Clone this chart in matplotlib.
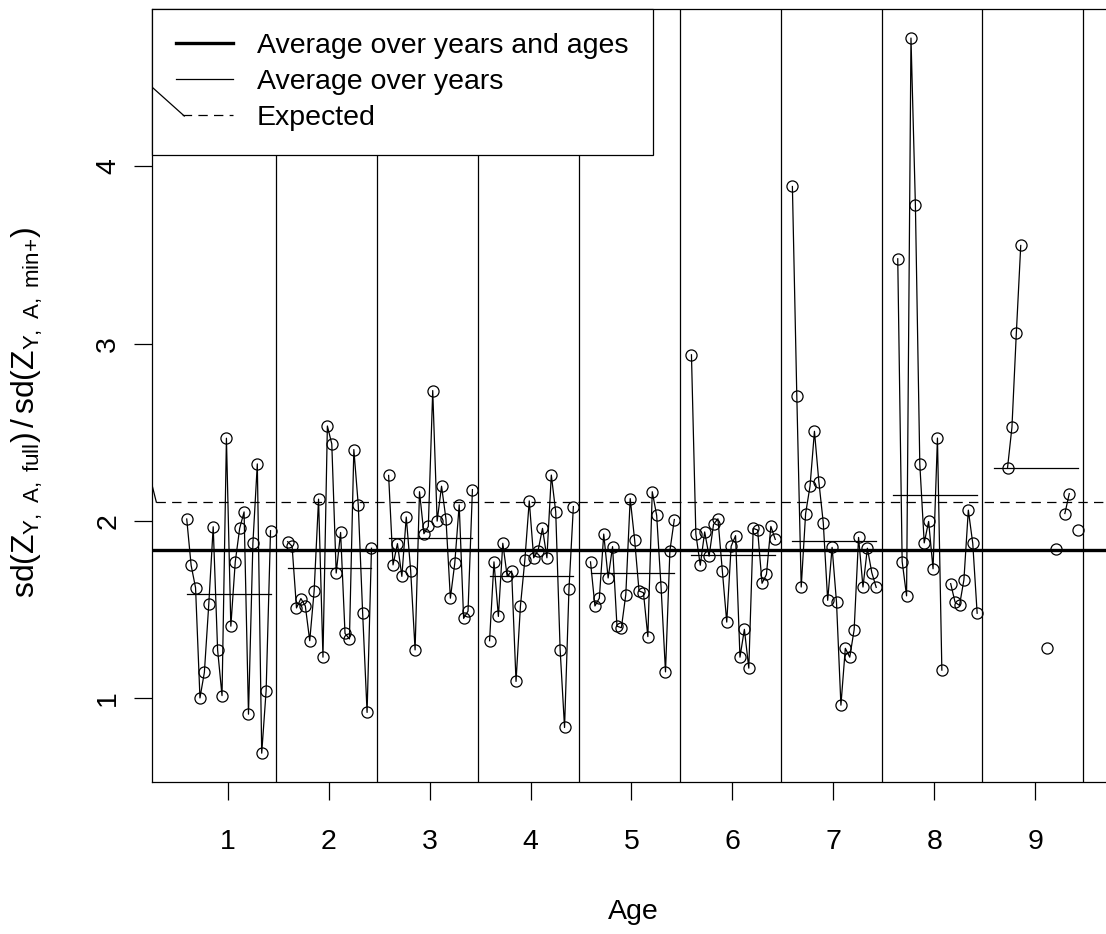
"""
Ratio of sd(Z) full vs min+ by age, one line per age over the years.
"""

import numpy as np
import matplotlib.pyplot as plt
from matplotlib.lines import Line2D

plt.rcParams['font.family'] = ['Liberation Sans', 'DejaVu Sans']
plt.rcParams['mathtext.fontset'] = 'custom'
plt.rcParams['mathtext.rm'] = 'Liberation Sans'
plt.rcParams['mathtext.it'] = 'Liberation Sans'
plt.rcParams['mathtext.bf'] = 'Liberation Sans:bold'

### Data, 20 years per age, nan = missing ###
nan = np.nan
ages = [1, 2, 3, 4, 5, 6, 7, 8, 9]
years = np.arange(20)

ratio_age1 = [2.01, 1.748, 1.622, 1.00, 1.144, 1.529, 1.966, 1.271, 1.013, 2.466,
              1.405, 1.768, 1.957, 2.05, 0.908, 1.873, 2.321, 0.688, 1.041, 1.944]
ratio_age2 = [1.882, 1.856, 1.508, 1.561, 1.519, 1.323, 1.604, 2.122, 1.230, 2.535,
              2.434, 1.705, 1.934, 1.364, 1.333, 2.402, 2.09, 1.477, 0.918, 1.845]
ratio_age3 = [2.256, 1.751, 1.871, 1.686, 2.021, 1.718, 1.271, 2.164, 1.927, 1.968,
              2.735, 1.998, 2.195, 2.01, 1.563, 1.761, 2.09, 1.449, 1.49, 2.176]
ratio_age4 = [1.323, 1.768, 1.46, 1.873, 1.686, 1.716, 1.093, 1.519, 1.779, 2.112,
              1.791, 1.832, 1.957, 1.791, 2.258, 2.05, 1.271, 0.833, 1.613, 2.08]
ratio_age5 = [1.768, 1.519, 1.563, 1.925, 1.677, 1.854, 1.405, 1.396, 1.583, 2.125,
              1.893, 1.604, 1.594, 1.346, 2.164, 2.03, 1.624, 1.147, 1.832, 2.007]
ratio_age6 = [2.937, 1.925, 1.749, 1.937, 1.80, 1.979, 2.011, 1.718, 1.428, 1.856,
              1.916, 1.23, 1.387, 1.168, 1.957, 1.948, 1.647, 1.697, 1.968, 1.895]
ratio_age7 = [3.887, 2.706, 1.626, 2.041, 2.196, 2.505, 2.22, 1.989, 1.551, 1.85,
              1.54, 0.959, 1.28, 1.23, 1.385, 1.906, 1.626, 1.845, 1.707, 1.624]
ratio_age8 = [nan, 3.479, 1.77, 1.576, 4.725, 3.784, 2.32, 1.875, 1.996, 1.729,
              2.467, 1.157, nan, 1.645, 1.54, 1.522, 1.667, 2.06, 1.873, 1.478]
ratio_age9 = [nan, nan, nan, 2.298, 2.527, 3.06, 3.554, nan, nan, nan,
              nan, nan, 1.28, nan, 1.843, nan, 2.041, 2.153, nan, 1.948]

avg_all = 1.834      # average over years and ages
expected = 2.105     # expected ratio

legend_labels = ['Average over years and ages', 'Average over years', 'Expected']

groups = [ratio_age1, ratio_age2, ratio_age3, ratio_age4, ratio_age5,
          ratio_age6, ratio_age7, ratio_age8, ratio_age9]

### Layout helpers ###
slot_offset = -0.406   # first year relative to age tick
slot_step = 0.0437     # spacing between years inside an age block
div_offset = 0.477     # block separators
dash = (0, (7.5, 5))
fs = 20.5

W, H = 1106, 934
fig = plt.figure(figsize=(W / 100, H / 100), dpi=100)
# plot box right side sits just outside the saved picture
ax = fig.add_axes([151.7 / W, (H - 781.7) / H, (1114 - 151.7) / W, (781.7 - 9) / H])

for age, vals in zip(ages, groups):
    vals = np.asarray(vals, dtype=float)
    x = age + slot_offset + years * slot_step
    ax.plot(x, vals, color='k', lw=0.9, marker='o', ms=8, mfc='none', mec='k', mew=0.9)
    ax.plot([x[0], x[-1]], [np.nanmean(vals)] * 2, color='k', lw=0.9)
    ax.axvline(age + div_offset, color='k', lw=0.9)

ax.axhline(avg_all, color='k', lw=2.4)
ax.hlines(expected, 0.293, 10.5, colors='k', lw=0.9, linestyles=[dash])
# small stray segments that appear in the original output
ax.plot([0.2, 0.293], [2.316, expected], color='k', lw=0.9)
ax.plot([0.0, 0.0339], [0.8993, 0.8615], color='k', lw=0.9,
        transform=ax.transAxes, zorder=6)

ax.set_xlim(0.247, 9.78)
ax.set_ylim(0.527, 4.889)
ax.set_xticks(ages)
ax.set_yticks([1, 2, 3, 4])
ax.tick_params(axis='both', direction='out', length=13, width=0.9, labelsize=fs)
ax.tick_params(axis='x', pad=21)
ax.tick_params(axis='y', pad=9, labelrotation=90)
for lbl in ax.get_yticklabels():
    lbl.set_va('center')
for sp in ax.spines.values():
    sp.set_linewidth(0.9)

ax.set_xlabel('Age', fontsize=fs)
ax.xaxis.set_label_coords(0.5, -0.152)
ax.set_ylabel(r'$\mathrm{sd}\left(Z_{Y,\ A,\ full}\right)\,/\,\mathrm{sd}\left(Z_{Y,\ A,\ min{+}}\right)$',
              fontsize=23)
ax.yaxis.set_label_coords(-0.111, 0.478)

handles = [Line2D([], [], color='k', lw=2.4),
           Line2D([], [], color='k', lw=0.9),
           Line2D([], [], color='k', lw=0.9, ls=(7.5, (7.5, 5)))]
leg = ax.legend(handles, legend_labels, loc='upper left', bbox_to_anchor=(0, 1),
                borderaxespad=0, fancybox=False, framealpha=1, edgecolor='k',
                fontsize=fs, handlelength=2.0, handletextpad=0.85,
                labelspacing=0.34, borderpad=0.85)
leg.get_frame().set_linewidth(0.9)

plt.savefig("out.png", dpi=100)
